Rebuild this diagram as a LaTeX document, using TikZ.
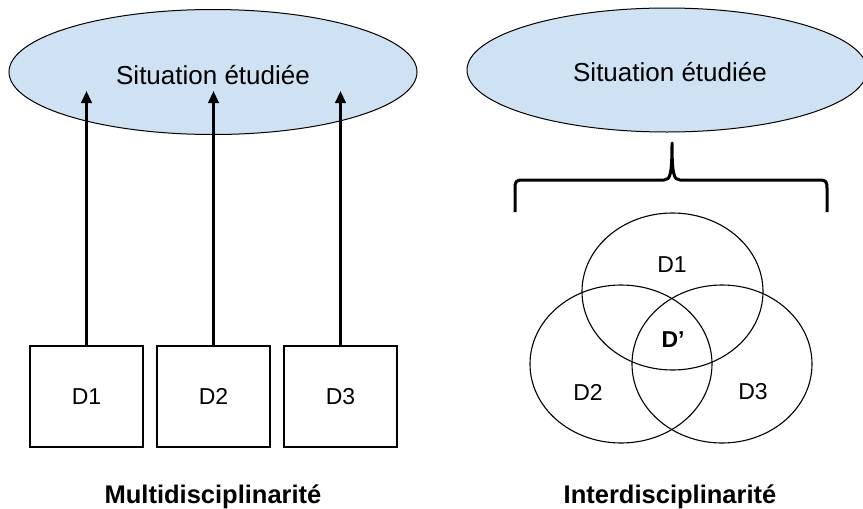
\documentclass[tikz,border=0pt]{standalone}
\usepackage{fontspec}
\setmainfont{Liberation Sans}
\usetikzlibrary{shapes.geometric,arrows.meta}
\definecolor{sitblue}{HTML}{CFE2F3}
\tikzset{
  sit/.style={ellipse, draw=black, line width=1pt, fill=sitblue, inner sep=0pt},
  sittext/.style={font=\fontsize{26}{30}\selectfont, inner sep=0pt},
  dbox/.style={draw=black, line width=1.3pt, minimum width=113pt, minimum height=101pt,
     inner sep=0pt, font=\fontsize{23}{27}\selectfont},
  venn/.style={ellipse, draw=black, line width=1.1pt, inner sep=0pt},
  lbl/.style={font=\fontsize{23}{27}\selectfont, inner sep=0pt},
  title/.style={font=\bfseries\fontsize{25.5}{30}\selectfont, inner sep=0pt},
  arr/.style={line width=2.4pt, -{Triangle[length=12pt,width=10.5pt]}},
  brace/.style={line width=3pt, line join=round}
}
\begin{document}
\begin{tikzpicture}[x=1pt,y=-1pt]
\useasboundingbox (0,0) rectangle (863,509);
% Left part: multidisciplinarity
\node[sit, minimum width=408pt, minimum height=125pt] (sitL) at (213,72) {};
\node[sittext] (sitLt) at (213,75) {Situation étudiée};
\node[dbox] (b1) at (86.5,396.5) {D1};
\node[dbox] (b2) at (213.5,396.5) {D2};
\node[dbox] (b3) at (340.5,396.5) {D3};
\coordinate (t1) at (86.5,91);
\coordinate (t2) at (213.5,91);
\coordinate (t3) at (340.5,91);
\draw[arr] (b1.north) -- (t1);
\draw[arr] (b2.north) -- (t2);
\draw[arr] (b3.north) -- (t3);
\node[title] (mt) at (213,497) {Multidisciplinarité};
% Right part: interdisciplinarity
\node[sit, minimum width=400pt, minimum height=124pt] (sitR) at (667,70) {};
\node[sittext] (sitRt) at (670,72) {Situation étudiée};
\coordinate (bl) at (515,212);
\coordinate (br) at (827,212);
\coordinate (btip) at (672,143);
\draw[brace] (bl) -- (515,188) .. controls (515,182) and (516,180) .. (522,180)
  -- (664,180) .. controls (670,180) and (672,175) .. (btip)
  .. controls (672,175) and (674,180) .. (680,180)
  -- (820,180) .. controls (826,180) and (827,182) .. (827,188) -- (br);
\node[venn, minimum width=181pt, minimum height=157pt] (c1) at (672.5,291.5) {};
\node[venn, minimum width=182pt, minimum height=158pt] (c2) at (621,364) {};
\node[venn, minimum width=180pt, minimum height=158pt] (c3) at (722,364) {};
\node[lbl] (l1) at (672,265) {D1};
\node[lbl, font=\bfseries\fontsize{23}{27}\selectfont] (lp) at (673,340) {D’};
\node[lbl] (l2) at (588,392) {D2};
\node[lbl] (l3) at (753,392) {D3};
\node[title] (it) at (670,497) {Interdisciplinarité};
\end{tikzpicture}
\end{document}
